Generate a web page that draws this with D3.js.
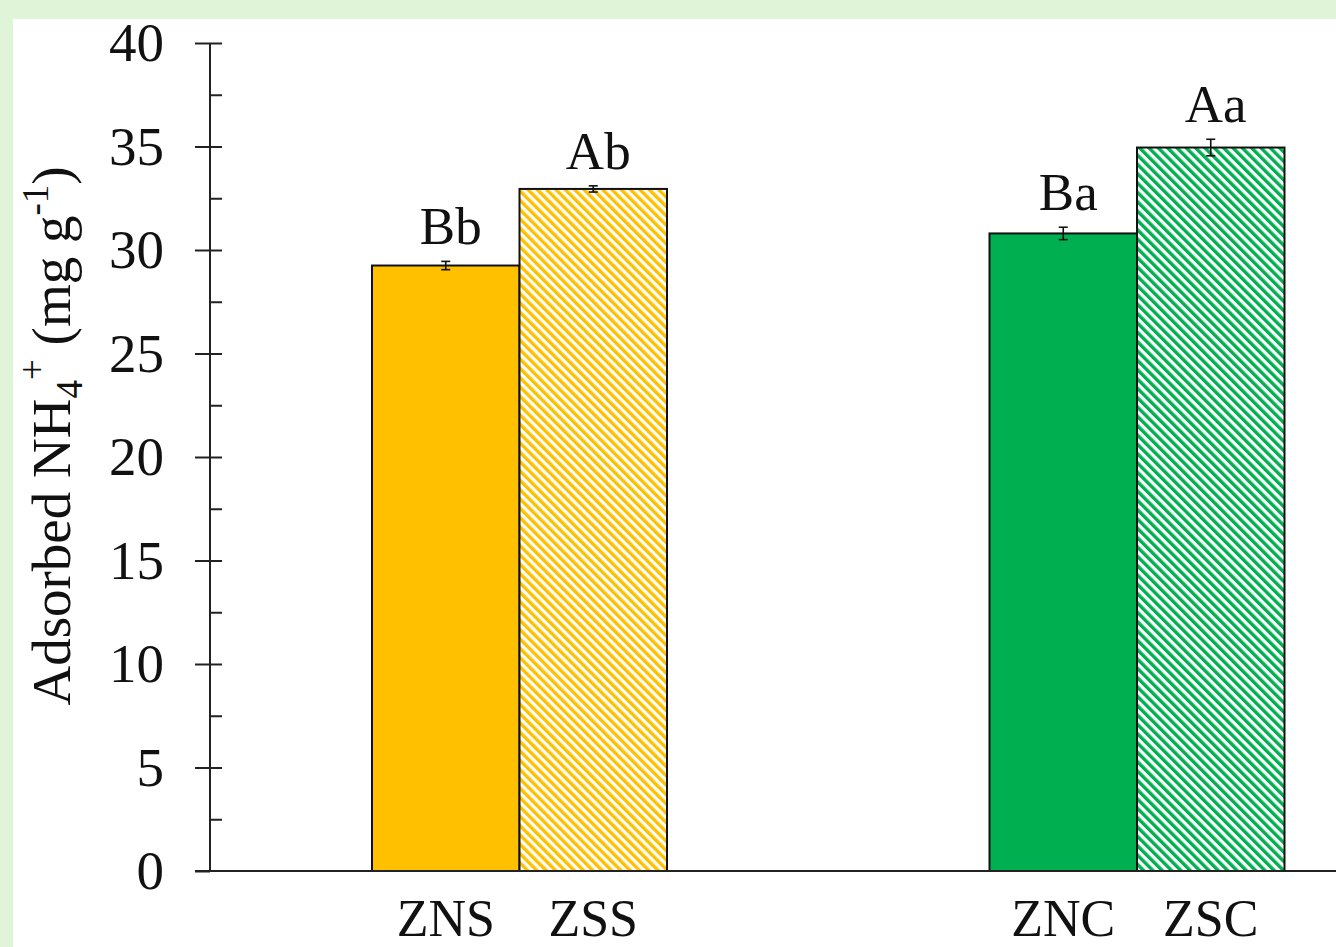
<!DOCTYPE html>
<html>
<head>
<meta charset="utf-8">
<script src="https://cdn.jsdelivr.net/npm/d3@7"></script>
<style>
  html, body { margin: 0; padding: 0; background: #e0f5d8; }
  svg { display: block; }
  text { font-family: "Liberation Serif", "Times New Roman", serif; fill: #111; }
</style>
</head>
<body>
<svg id="chart" width="1336" height="947"></svg>
<script>
// data
const groups = ["N", "C"];
const categories = ["ZNS", "ZSS", "ZNC", "ZSC"];
const values = [29.25, 32.95, 30.8, 34.95];
const errors = [0.2, 0.15, 0.3, 0.4];
const letters = ["Bb", "Ab", "Ba", "Aa"];
const yTicks = [0, 5, 10, 15, 20, 25, 30, 35, 40];

const rows = categories.map((c, i) => ({
    name: c,
    group: groups[Math.floor(i / 2)],
    kind: i % 2 === 0 ? "plain" : "hatch",
    value: values[i],
    err: errors[i],
    letter: letters[i]
}));

const svg = d3.select("#chart");
const W = 1336, H = 947;

// white panel on the green frame
svg.append("rect").attr("x", 13).attr("y", 19).attr("width", W - 13).attr("height", H - 19).attr("fill", "#fff");

const colors = { N: "#ffc000", C: "#00b050" };

// hatch patterns
const defs = svg.append("defs");
groups.forEach(g => {
    const p = defs.append("pattern")
        .attr("id", "hatch-" + g)
        .attr("patternUnits", "userSpaceOnUse")
        .attr("width", 6.6)
        .attr("height", 6.6)
        .attr("patternTransform", "rotate(-45)");
    p.append("rect").attr("width", 6.6).attr("height", 6.6).attr("fill", "#fff");
    p.append("rect").attr("x", 0).attr("width", 3.4).attr("height", 6.6).attr("fill", colors[g]);
});

const axisX = 210;
const y = d3.scaleLinear().domain([0, 40]).range([871, 43]);
const x0 = d3.scalePoint().domain(groups).range([519.5, 1137]);
const x1 = d3.scaleBand().domain(["plain", "hatch"]).range([-147.5, 147.5]).padding(0);

const bx = d => x0(d.group) + x1(d.kind);
const cx = d => bx(d) + x1.bandwidth() / 2;

// bars
svg.append("g").selectAll("rect")
    .data(rows)
    .join("rect")
    .attr("x", bx)
    .attr("width", x1.bandwidth())
    .attr("y", d => y(d.value))
    .attr("height", d => y(0) - y(d.value))
    .attr("fill", d => d.kind === "plain" ? colors[d.group] : `url(#hatch-${d.group})`)
    .attr("stroke", "#111")
    .attr("stroke-width", 2);

// error bars
const eb = svg.append("g").attr("stroke", "#111").attr("stroke-width", 1.6);
rows.forEach(d => {
    eb.append("line").attr("x1", cx(d)).attr("x2", cx(d)).attr("y1", y(d.value - d.err)).attr("y2", y(d.value + d.err));
    eb.append("line").attr("x1", cx(d) - 4.5).attr("x2", cx(d) + 4.5).attr("y1", y(d.value - d.err)).attr("y2", y(d.value - d.err));
    eb.append("line").attr("x1", cx(d) - 4.5).attr("x2", cx(d) + 4.5).attr("y1", y(d.value + d.err)).attr("y2", y(d.value + d.err));
});

// significance letters
svg.append("g").selectAll("text")
    .data(rows)
    .join("text")
    .attr("x", d => cx(d) + 5)
    .attr("y", d => y(d.value + d.err) - 17)
    .attr("text-anchor", "middle")
    .style("font-size", "53px")
    .text(d => d.letter);

// y axis: major ticks on the left, minor ticks on the right
const yAxis = svg.append("g")
    .attr("transform", `translate(${axisX},0)`)
    .call(d3.axisLeft(y).tickValues(yTicks).tickSize(15).tickPadding(31).tickFormat(d3.format("d")));
yAxis.select(".domain").remove();
yAxis.selectAll("line").attr("stroke", "#222").attr("stroke-width", 2);
yAxis.selectAll("text").style("font-size", "55px").attr("fill", "#111").attr("font-family", null);

const minor = svg.append("g")
    .attr("transform", `translate(${axisX},0)`)
    .call(d3.axisRight(y).tickValues(d3.range(2.5, 40.1, 2.5)).tickSize(12).tickFormat(""));
minor.select(".domain").remove();
minor.selectAll("line").attr("stroke", "#222").attr("stroke-width", 2);

svg.append("line").attr("x1", axisX).attr("x2", axisX).attr("y1", y(40)).attr("y2", y(0))
    .attr("stroke", "#222").attr("stroke-width", 2);
svg.append("line").attr("x1", axisX - 15).attr("x2", W).attr("y1", y(0)).attr("y2", y(0))
    .attr("stroke", "#222").attr("stroke-width", 2);

// category labels
svg.append("g").selectAll("text")
    .data(rows)
    .join("text")
    .attr("x", cx)
    .attr("y", 936)
    .attr("text-anchor", "middle")
    .style("font-size", "52px")
    .text(d => d.name);

// y title
const title = svg.append("text")
    .attr("transform", "translate(70,436) rotate(-90)")
    .attr("text-anchor", "middle")
    .style("font-size", "55px");
title.append("tspan").text("Adsorbed NH");
title.append("tspan").attr("dy", 12).style("font-size", "37px").text("4");
title.append("tspan").attr("dy", -37).style("font-size", "37px").text("+");
title.append("tspan").attr("dy", 25).text(" (mg g");
title.append("tspan").attr("dy", -22).style("font-size", "37px").text("-1");
title.append("tspan").attr("dy", 22).text(")");
</script>
</body>
</html>
